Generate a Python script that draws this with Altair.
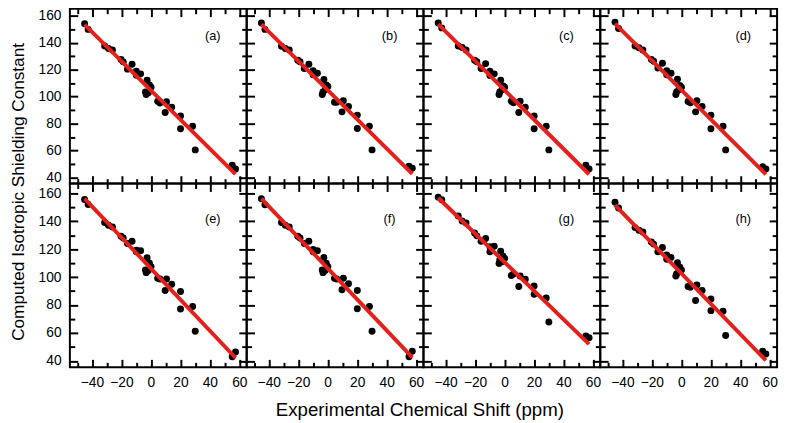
import altair as alt
import pandas as pd

# ---------------- data ----------------
x_exp = [-45.0, -42.6, -31.4, -28.8, -26.1, -20.3, -18.8, -12.8, -15.9, -9.9,
         -7.0, -9.9, -2.6, -1.0, 0.1, -3.7, -3.2, -1.7, 4.6, 6.1,
         10.6, 14.1, 9.7, 20.1, 20.1, 28.3, 30.1, 55.2, 57.4]

y_a = [154.1, 149.9, 137.6, 135.7, 134.6, 127.5, 125.8, 124.0, 120.4, 118.8,
       116.9, 115.8, 112.2, 108.7, 107.0, 103.5, 101.6, 102.8, 96.5, 95.3,
       96.2, 92.2, 88.2, 85.6, 76.2, 78.1, 60.5, 49.2, 46.4]
y_b = [154.6, 149.9, 137.4, 135.7, 134.6, 127.0, 125.9, 124.0, 120.9, 119.3,
       117.4, 116.2, 112.7, 108.7, 107.5, 101.6, 103.5, 105.2, 95.8, 95.8,
       96.9, 92.7, 88.7, 86.3, 76.4, 78.1, 60.5, 48.3, 46.9]
y_c = [154.6, 151.0, 137.6, 136.4, 134.6, 127.0, 125.9, 124.5, 120.9, 118.8,
       116.9, 115.7, 112.2, 107.9, 107.0, 101.6, 103.5, 105.2, 96.6, 95.4,
       96.6, 92.2, 88.2, 85.6, 76.2, 78.1, 60.5, 49.2, 46.4]
y_d = [155.3, 150.6, 137.6, 136.2, 134.6, 127.5, 126.3, 124.7, 121.2, 119.3,
       117.4, 116.2, 112.9, 108.2, 107.0, 101.6, 103.5, 105.2, 96.4, 95.4,
       96.9, 92.7, 88.7, 86.3, 76.2, 78.1, 60.5, 48.0, 46.4]
y_e = [155.5, 152.0, 139.0, 137.1, 135.9, 129.2, 128.0, 125.7, 124.0, 119.3,
       118.8, 118.1, 113.9, 109.9, 107.5, 105.1, 103.2, 104.7, 99.2, 98.7,
       98.7, 94.9, 90.4, 89.7, 77.2, 79.0, 61.3, 43.0, 46.5]
y_f = [156.0, 151.7, 139.0, 137.1, 135.9, 129.2, 128.0, 125.7, 124.0, 119.8,
       118.8, 118.1, 114.1, 109.9, 107.5, 105.1, 103.2, 104.7, 99.2, 98.7,
       99.2, 95.2, 90.9, 90.4, 77.4, 79.0, 61.3, 43.0, 47.0]
y_g = [157.2, 155.3, 143.7, 140.1, 138.7, 131.6, 129.5, 127.6, 125.7, 121.7,
       122.1, 118.1, 118.6, 115.0, 113.4, 109.8, 112.2, 111.0, 101.1, 102.3,
       100.8, 98.5, 93.3, 93.7, 87.8, 85.0, 67.9, 57.8, 56.6]
y_h = [153.6, 149.4, 135.4, 133.5, 132.3, 125.2, 123.6, 121.2, 118.1, 115.8,
       114.1, 112.7, 110.3, 107.0, 105.1, 100.8, 102.3, 103.9, 93.3, 92.8,
       94.4, 90.4, 83.3, 84.3, 76.0, 75.5, 58.2, 47.0, 45.0]

panel_labels = ["(a)", "(b)", "(c)", "(d)", "(e)", "(f)", "(g)", "(h)"]
panel_values = [y_a, y_b, y_c, y_d, y_e, y_f, y_g, y_h]

x_major = [-40, -20, 0, 20, 40, 60]
x_minor = [-50, -30, -10, 10, 30, 50]
y_major = [40, 60, 80, 100, 120, 140, 160]
y_minor = [50, 70, 90, 110, 130, 150]

x_title = "Experimental Chemical Shift (ppm)"
y_title = "Computed Isotropic Shielding Constant"

# ---------------- style ----------------
FONT = "Liberation Sans"
X_DOMAIN = [-55, 65]
ROW_DOMAIN = [[35.5, 165.2], [35.5, 166.9]]
ROW_HEIGHT = [178, 187]
LABEL_POS = [(42, 145), (42, 141.3)]
PANEL_W = 180
LONG, SHORT = 8, 5
RED = "#e3201b"


def make_axis(orient, values, size, labels):
    return alt.Axis(
        orient=orient, values=values, tickSize=size, offset=-size,
        domain=False, grid=False, labels=labels, title=None,
        tickColor="black", tickWidth=2,
        labelFont=FONT, labelFontSize=14, labelColor="black",
        labelPadding=9, labelFlush=False, labelOverlap=False,
    )


def panel(idx):
    row, col = divmod(idx, 4)
    df = pd.DataFrame({"x": x_exp, "y": panel_values[idx]})
    base = alt.Chart(df)
    xs = alt.Scale(domain=X_DOMAIN, nice=False, zero=False)
    ys = alt.Scale(domain=ROW_DOMAIN[row], nice=False, zero=False)
    show_x = row == 1
    show_y = col == 0

    pts = base.mark_circle(size=50, color="black", opacity=1).encode(
        x=alt.X("x:Q", scale=xs, axis=make_axis("bottom", x_major, LONG, show_x)),
        y=alt.Y("y:Q", scale=ys, axis=make_axis("left", y_major, LONG, show_y)),
    )
    fit = base.transform_regression("x", "y").mark_line(
        color=RED, strokeWidth=4
    ).encode(
        x=alt.X("x:Q", axis=make_axis("bottom", x_minor, SHORT, False)),
        y=alt.Y("y:Q", axis=make_axis("left", y_minor, SHORT, False)),
    )
    ghost1 = base.mark_circle(opacity=0).encode(
        x=alt.X("x:Q", axis=make_axis("top", x_major, LONG, False)),
        y=alt.Y("y:Q", axis=make_axis("right", y_major, LONG, False)),
    )
    ghost2 = base.mark_circle(opacity=0).encode(
        x=alt.X("x:Q", axis=make_axis("top", x_minor, SHORT, False)),
        y=alt.Y("y:Q", axis=make_axis("right", y_minor, SHORT, False)),
    )
    lx, ly = LABEL_POS[row]
    lab = alt.Chart(pd.DataFrame({"label": [panel_labels[idx]]})).mark_text(
        font=FONT, fontSize=13, color="black", align="center", baseline="middle"
    ).encode(
        x=alt.X(datum=lx, axis=None),
        y=alt.Y(datum=ly, axis=None),
        text="label:N",
    )
    return alt.layer(pts, fit, ghost1, ghost2, lab).resolve_axis(
        x="independent", y="independent"
    ).properties(width=PANEL_W, height=ROW_HEIGHT[row])


grid = alt.concat(
    *[panel(i) for i in range(8)], columns=4, spacing=0, bounds="flush"
).properties(
    title=alt.TitleParams(
        text=x_title, orient="bottom", anchor="middle", frame="bounds",
        font=FONT, fontSize=19, fontWeight="normal", color="black",
        offset=11, dx=12,
    )
)

chart = alt.vconcat(grid).properties(
    title=alt.TitleParams(
        text=y_title, orient="left", anchor="middle", frame="bounds",
        font=FONT, fontSize=17.5, fontWeight="normal", color="black",
        offset=10, dx=22,
    ),
    padding={"top": -5, "left": 2, "right": 2, "bottom": 0},
    background="white",
).configure_view(stroke="black", strokeWidth=2)

chart.save("out.html", embed_options={"renderer": "svg", "actions": False})
